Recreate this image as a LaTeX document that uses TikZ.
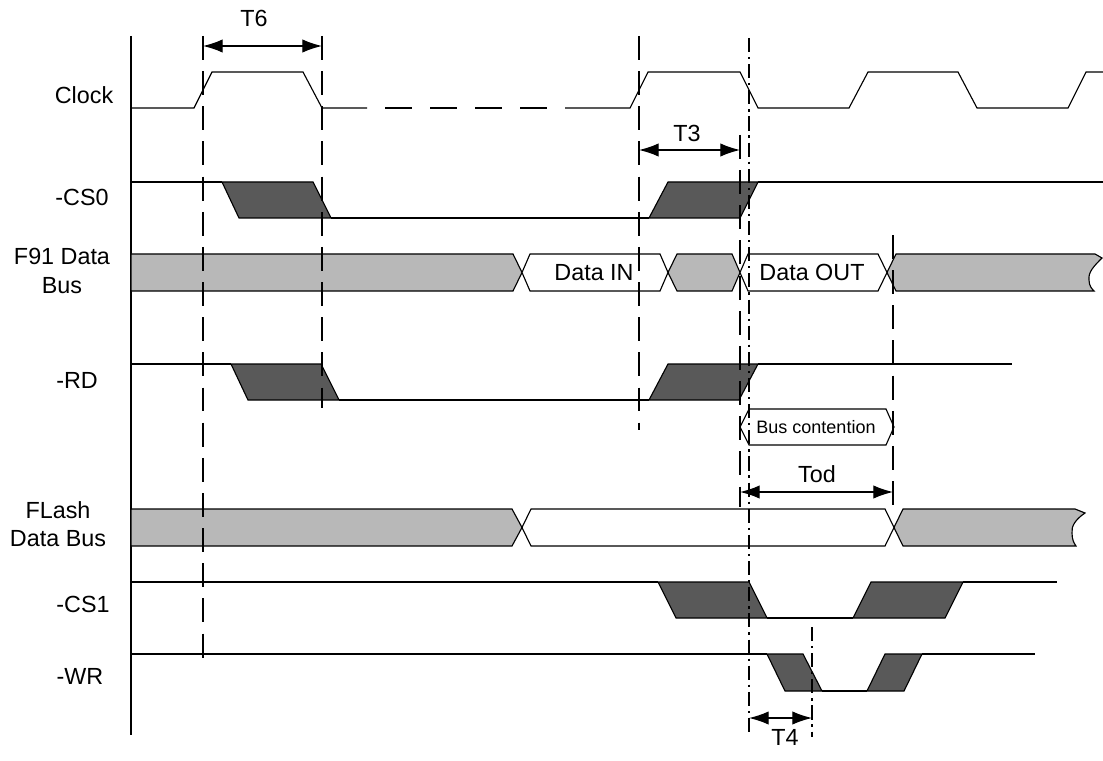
\documentclass[tikz,border=0pt]{standalone}
\usepackage{fontspec}
\setmainfont{Liberation Sans}
\usetikzlibrary{arrows.meta}

\begin{document}
\begin{tikzpicture}[x=0.025cm,y=-0.025cm,
    >={Latex[length=14pt,width=9.5pt]},
    sig/.style={line width=0.8pt},
    guide/.style={line width=1.8pt,dash pattern=on 17pt off 8pt},
    guidedot/.style={line width=1.5pt,dash pattern=on 10pt off 3.5pt on 1.6pt off 3.5pt},
    slope/.style={line width=0.8pt,fill=black!65},
    busfill/.style={line width=0.8pt,fill=black!28},
    busfree/.style={line width=0.8pt,fill=white},
    dim/.style={line width=0.9pt,<->},
    lbl/.style={font=\fontsize{16.6}{20}\selectfont,inner sep=0pt},
    small/.style={font=\fontsize{12.8}{15}\selectfont,inner sep=0pt}]
      \path[use as bounding box] (0,0) rectangle (1103,761);

      % time axis
      \draw[sig] (131,36) -- (131,735);

      % signal names
      \node[lbl,anchor=base] (nclock) at (84,104) {Clock};
      \node[lbl,anchor=base] (ncs0) at (82,206) {-CS0};
      \node[lbl,align=center] (nf91) at (62,271) {F91 Data\\Bus};
      \node[lbl,anchor=base] (nrd) at (77,388) {-RD};
      \node[lbl,align=center] (nflash) at (58,524) {FLash\\Data Bus};
      \node[lbl,anchor=base] (ncs1) at (83,612) {-CS1};
      \node[lbl,anchor=base] (nwr) at (80,684) {-WR};

      % clock
      \draw[sig] (131,108) -- (194,108) -- (212,72) -- (303,72) -- (322,108) -- (367,108);
      \draw[sig,dash pattern=on 19pt off 13pt,dash phase=19pt] (367,108) -- (565,108);
      \draw[sig] (565,108) -- (630,108) -- (648,72) -- (740,72) -- (758,108) -- (849,108)
        -- (868,72) -- (958,72) -- (977,108) -- (1068,108) -- (1086,72) -- (1103,72);

      % -CS0
      \draw[sig] (131,182) -- (222,182);
      \filldraw[slope] (222,182) -- (313,182) -- (331,218) -- (239,218) -- cycle;
      \draw[sig] (331,218) -- (649,218);
      \filldraw[slope] (649,218) -- (740,218) -- (758,182) -- (668,182) -- cycle;
      \draw[sig] (758,182) -- (1103,182);

      % F91 data bus
      \filldraw[busfill] (131,254) -- (513,254) -- (522,272.5) -- (513,291) -- (131,291) -- cycle;
      \filldraw[busfree] (522,272.5) -- (530,254) -- (660,254) -- (668,272.5) -- (660,291) -- (530,291) -- cycle;
      \filldraw[busfill] (668,272.5) -- (677,254) -- (732,254) -- (740,272.5) -- (732,291) -- (677,291) -- cycle;
      \filldraw[busfree] (740,272.5) -- (748,254) -- (878,254) -- (887,272.5) -- (878,291) -- (748,291) -- cycle;
      \filldraw[busfill] (887,272.5) -- (896,254) -- (1095,254) -- (1102,258)
        .. controls (1094,266) and (1088,272) .. (1089,280)
        .. controls (1089,286) and (1092,289) .. (1094,291) -- (896,291) -- cycle;
      \node[lbl,anchor=base] (ndin) at (594,280) {Data IN};
      \node[lbl,anchor=base] (ndout) at (812,280) {Data OUT};

      % -RD
      \draw[sig] (131,364) -- (231,364);
      \filldraw[slope] (231,364) -- (321,364) -- (339,400) -- (248,400) -- cycle;
      \draw[sig] (339,400) -- (649,400);
      \filldraw[slope] (649,400) -- (739,400) -- (758,364) -- (668,364) -- cycle;
      \draw[sig] (758,364) -- (1012,364);

      % bus contention
      \draw[sig] (740,427) -- (749,409) -- (886,409) -- (894,427) -- (886,445) -- (749,445) -- cycle;
      \node[small,anchor=base] (ncont) at (816,433) {Bus contention};

      % flash data bus
      \filldraw[busfill] (131,509) -- (512,509) -- (522,527.5) -- (512,546) -- (131,546) -- cycle;
      \filldraw[busfree] (522,527.5) -- (531,509) -- (885,509) -- (894,527.5) -- (885,546) -- (531,546) -- cycle;
      \filldraw[busfill] (894,527.5) -- (903,509) -- (1075,509) -- (1085,513)
        .. controls (1076,519) and (1071,526) .. (1072,533)
        .. controls (1072,540) and (1074,543) .. (1076,546) -- (903,546) -- cycle;

      % -CS1
      \draw[sig] (131,582) -- (658,582);
      \filldraw[slope] (658,582) -- (749,582) -- (767,618) -- (676,618) -- cycle;
      \draw[sig] (767,618) -- (853,618);
      \filldraw[slope] (853,618) -- (945,618) -- (963,582) -- (871,582) -- cycle;
      \draw[sig] (963,582) -- (1057,582);

      % -WR
      \draw[sig] (131,654) -- (767,654);
      \filldraw[slope] (767,654) -- (803,654) -- (822,691) -- (785,691) -- cycle;
      \draw[sig] (822,691) -- (867,691);
      \filldraw[slope] (867,691) -- (904,691) -- (922,654) -- (885,654) -- cycle;
      \draw[sig] (922,654) -- (1035,654);

      % timing guides
      \draw[guide] (203,36) -- (203,662);
      \draw[guide] (322,36) -- (322,408);
      \draw[guide] (639,36) -- (639,430);
      \draw[guide] (740,135) -- (740,507);
      \draw[guide,dash phase=20pt] (893,228) -- (893,512);
      \draw[guidedot] (749,38) -- (749,737);
      \draw[guidedot] (812,627) -- (812,737);

      % intervals
      \coordinate (t6a) at (203,46);  \coordinate (t6b) at (322,46);
      \coordinate (t3a) at (639,150); \coordinate (t3b) at (740,150);
      \coordinate (toda) at (740,492); \coordinate (todb) at (893,492);
      \coordinate (t4a) at (749,718); \coordinate (t4b) at (812,718);
      \draw[dim] (t6a) -- (t6b);
      \draw[dim] (t3a) -- (t3b);
      \draw[dim] (toda) -- (todb);
      \draw[dim] (t4a) -- (t4b);
      \node[lbl,anchor=base] (nt6) at (254,27) {T6};
      \node[lbl,anchor=base] (nt3) at (687,142) {T3};
      \node[lbl,anchor=base] (ntod) at (817,482) {Tod};
      \node[lbl,anchor=base] (nt4) at (785,745) {T4};
\end{tikzpicture}
\end{document}
